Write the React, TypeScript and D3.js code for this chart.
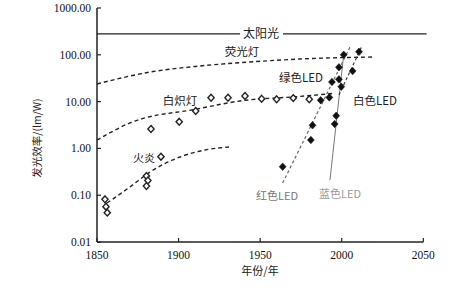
import React from "react";
import * as d3 from "d3";

const W = 450, H = 287;

const xTicks = [1850, 1900, 1950, 2000, 2050];
const yTicks = [0.01, 0.1, 1, 10, 100, 1000];

const sunValue = 280;
const sunYears = [1850, 2052];

// curve guide points
const fluorescentCurve: [number, number][] = [
  [1850, 23.8], [1882.5, 42.8], [1913.1, 57.7], [1943.8, 70.2], [1974.4, 81.3], [2019.2, 89.8],
];
const incandescentCurve: [number, number][] = [
  [1850, 1.5], [1870.2, 3.5], [1911.3, 6.95], [1937.6, 10.3], [1974.4, 12.9], [1994.6, 14.9],
];
const fireCurve: [number, number][] = [
  [1856.1, 0.068], [1870.2, 0.15], [1882.5, 0.313], [1900.9, 0.655], [1916.2, 0.925], [1930.9, 1.07],
];

const incandescentPts: [number, number][] = [
  [1883.1, 2.6], [1900.4, 3.7], [1910.5, 6.3], [1919.9, 12.1], [1930.3, 12.1],
  [1940.7, 13.2], [1950.9, 11.5], [1960.1, 11.2], [1970.3, 11.9], [1980.1, 11.2],
];
const firePts: [number, number][] = [
  [1854.9, 0.0817], [1855.5, 0.0568], [1856.3, 0.0423],
  [1880.3, 0.257], [1881.2, 0.206], [1880.3, 0.157], [1889.2, 0.665],
];

const redLedPts: [number, number][] = [
  [1963.8, 0.406], [1981.1, 1.51], [1982.1, 3.12], [1987.1, 10.7], [1994.0, 26.2], [1998.3, 54], [2001.2, 100],
];
const greenLedPts: [number, number][] = [
  [1992.4, 12.3], [1998.3, 29.9],
];
const blueLedPts: [number, number][] = [
  [1995.7, 3.32], [1996.6, 4.98], [1999.7, 20.8],
];
const whiteLedPts: [number, number][] = [
  [2006.7, 45], [2010.6, 116],
];

const redLedLine: [number, number][] = [[1963.8, 0.182], [2005.1, 147]];
const blueLedLine: [number, number][] = [[1992.8, 0.211], [2001.4, 115]];
const whiteLedLine: [number, number][] = [[1998.3, 13.8], [2012.4, 154]];

const x = d3.scaleLinear().domain([1850, 2050]).range([97, 423.3]);
const y = d3.scaleLog().domain([0.01, 1000]).range([242, 8]);

const curveGen = d3
  .line<[number, number]>()
  .x((d) => x(d[0]))
  .y((d) => y(d[1]))
  .curve(d3.curveMonotoneX);
const straight = d3
  .line<[number, number]>()
  .x((d) => x(d[0]))
  .y((d) => y(d[1]));

function diamond(cx: number, cy: number, r: number) {
  return `M${cx},${cy - r}L${cx + r * 0.92},${cy}L${cx},${cy + r}L${cx - r * 0.92},${cy}Z`;
}

const serif = "'Liberation Serif', 'DejaVu Serif', serif";
const cjk = "'Noto Sans CJK SC', sans-serif";

export default function App() {
  const sunY = y(sunValue);
  return (
    <svg
      width={W}
      height={H}
      style={{ position: "absolute", left: 0, top: 0, background: "#fff" }}
    >
      <rect x={0} y={0} width={W} height={H} fill="#fff" />

      {/* axes */}
      <line x1={x(1850)} x2={x(2050)} y1={y(0.01)} y2={y(0.01)} stroke="#222" strokeWidth={1.5} />
      <line x1={x(1850)} x2={x(1850)} y1={y(0.01)} y2={y(1000)} stroke="#222" strokeWidth={1.5} />
      {xTicks.map((t) => (
        <g key={t}>
          <line x1={x(t)} x2={x(t)} y1={y(0.01)} y2={y(0.01) - 4} stroke="#222" strokeWidth={1.2} />
          <text x={x(t)} y={259} textAnchor="middle" fontFamily={serif} fontSize={11.5} fill="#111">{t}</text>
        </g>
      ))}
      {yTicks.map((t) => (
        <g key={t}>
          <line x1={x(1850)} x2={x(1850) + 4} y1={y(t)} y2={y(t)} stroke="#222" strokeWidth={1.2} />
          <text x={91} y={y(t) + 4} textAnchor="end" fontFamily={serif} fontSize={11.5} fill="#111">
            {t.toFixed(2)}
          </text>
        </g>
      ))}
      <text x={260} y={275} textAnchor="middle" fontFamily={cjk} fontSize={11} fill="#222">年份/年</text>
      <text
        transform={`translate(41,138) rotate(-90)`}
        textAnchor="middle"
        fontFamily={cjk}
        fontSize={10.5}
        fill="#222"
      >
        发光效率/(lm/W)
      </text>

      {/* sunlight */}
      <line x1={x(sunYears[0])} x2={x(sunYears[1])} y1={sunY} y2={sunY} stroke="#222" strokeWidth={1.3} />
      <rect x={240} y={sunY - 8} width={43} height={16} fill="#fff" />
      <text x={261} y={sunY + 4.5} textAnchor="middle" fontFamily={cjk} fontSize={12} fill="#222">太阳光</text>

      {/* curves */}
      <path d={curveGen(fluorescentCurve) || ""} fill="none" stroke="#222" strokeWidth={1.4} strokeDasharray="4,3" />
      <path d={curveGen(incandescentCurve) || ""} fill="none" stroke="#222" strokeWidth={1.4} strokeDasharray="4,3" />
      <path d={curveGen(fireCurve) || ""} fill="none" stroke="#222" strokeWidth={1.4} strokeDasharray="4,3" />

      {/* LED lines */}
      <path d={straight(redLedLine) || ""} fill="none" stroke="#666" strokeWidth={1.2} strokeDasharray="3,2.5" />
      <path d={straight(blueLedLine) || ""} fill="none" stroke="#777" strokeWidth={1} />
      <path d={straight(whiteLedLine) || ""} fill="none" stroke="#333" strokeWidth={1.2} strokeDasharray="3,2.5" />

      {/* open diamonds */}
      {[...incandescentPts, ...firePts].map((d, i) => (
        <path key={"o" + i} d={diamond(x(d[0]), y(d[1]), 3.4)} fill="#fff" stroke="#222" strokeWidth={1.4} />
      ))}
      {/* filled diamonds */}
      {[...redLedPts, ...greenLedPts, ...blueLedPts, ...whiteLedPts].map((d, i) => (
        <path key={"f" + i} d={diamond(x(d[0]), y(d[1]), 3.8)} fill="#111" stroke="#111" strokeWidth={0.5} />
      ))}

      {/* labels */}
      <text x={242} y={56} textAnchor="middle" fontFamily={cjk} fontSize={11.5} fill="#222">荧光灯</text>
      <text x={180} y={105} textAnchor="middle" fontFamily={cjk} fontSize={11.5} fill="#222">白炽灯</text>
      <text x={144} y={162} textAnchor="middle" fontFamily={cjk} fontSize={11} fill="#222">火炎</text>
      <text x={301} y={81.5} textAnchor="middle" fontFamily={cjk} fontSize={11.5} fill="#222">绿色LED</text>
      <text x={375} y={105} textAnchor="middle" fontFamily={cjk} fontSize={11.5} fill="#222">白色LED</text>
      <text x={277} y={200} textAnchor="middle" fontFamily={cjk} fontSize={11} fill="#777">红色LED</text>
      <text x={340} y={198} textAnchor="middle" fontFamily={cjk} fontSize={11} fill="#999">蓝色LED</text>
    </svg>
  );
}
